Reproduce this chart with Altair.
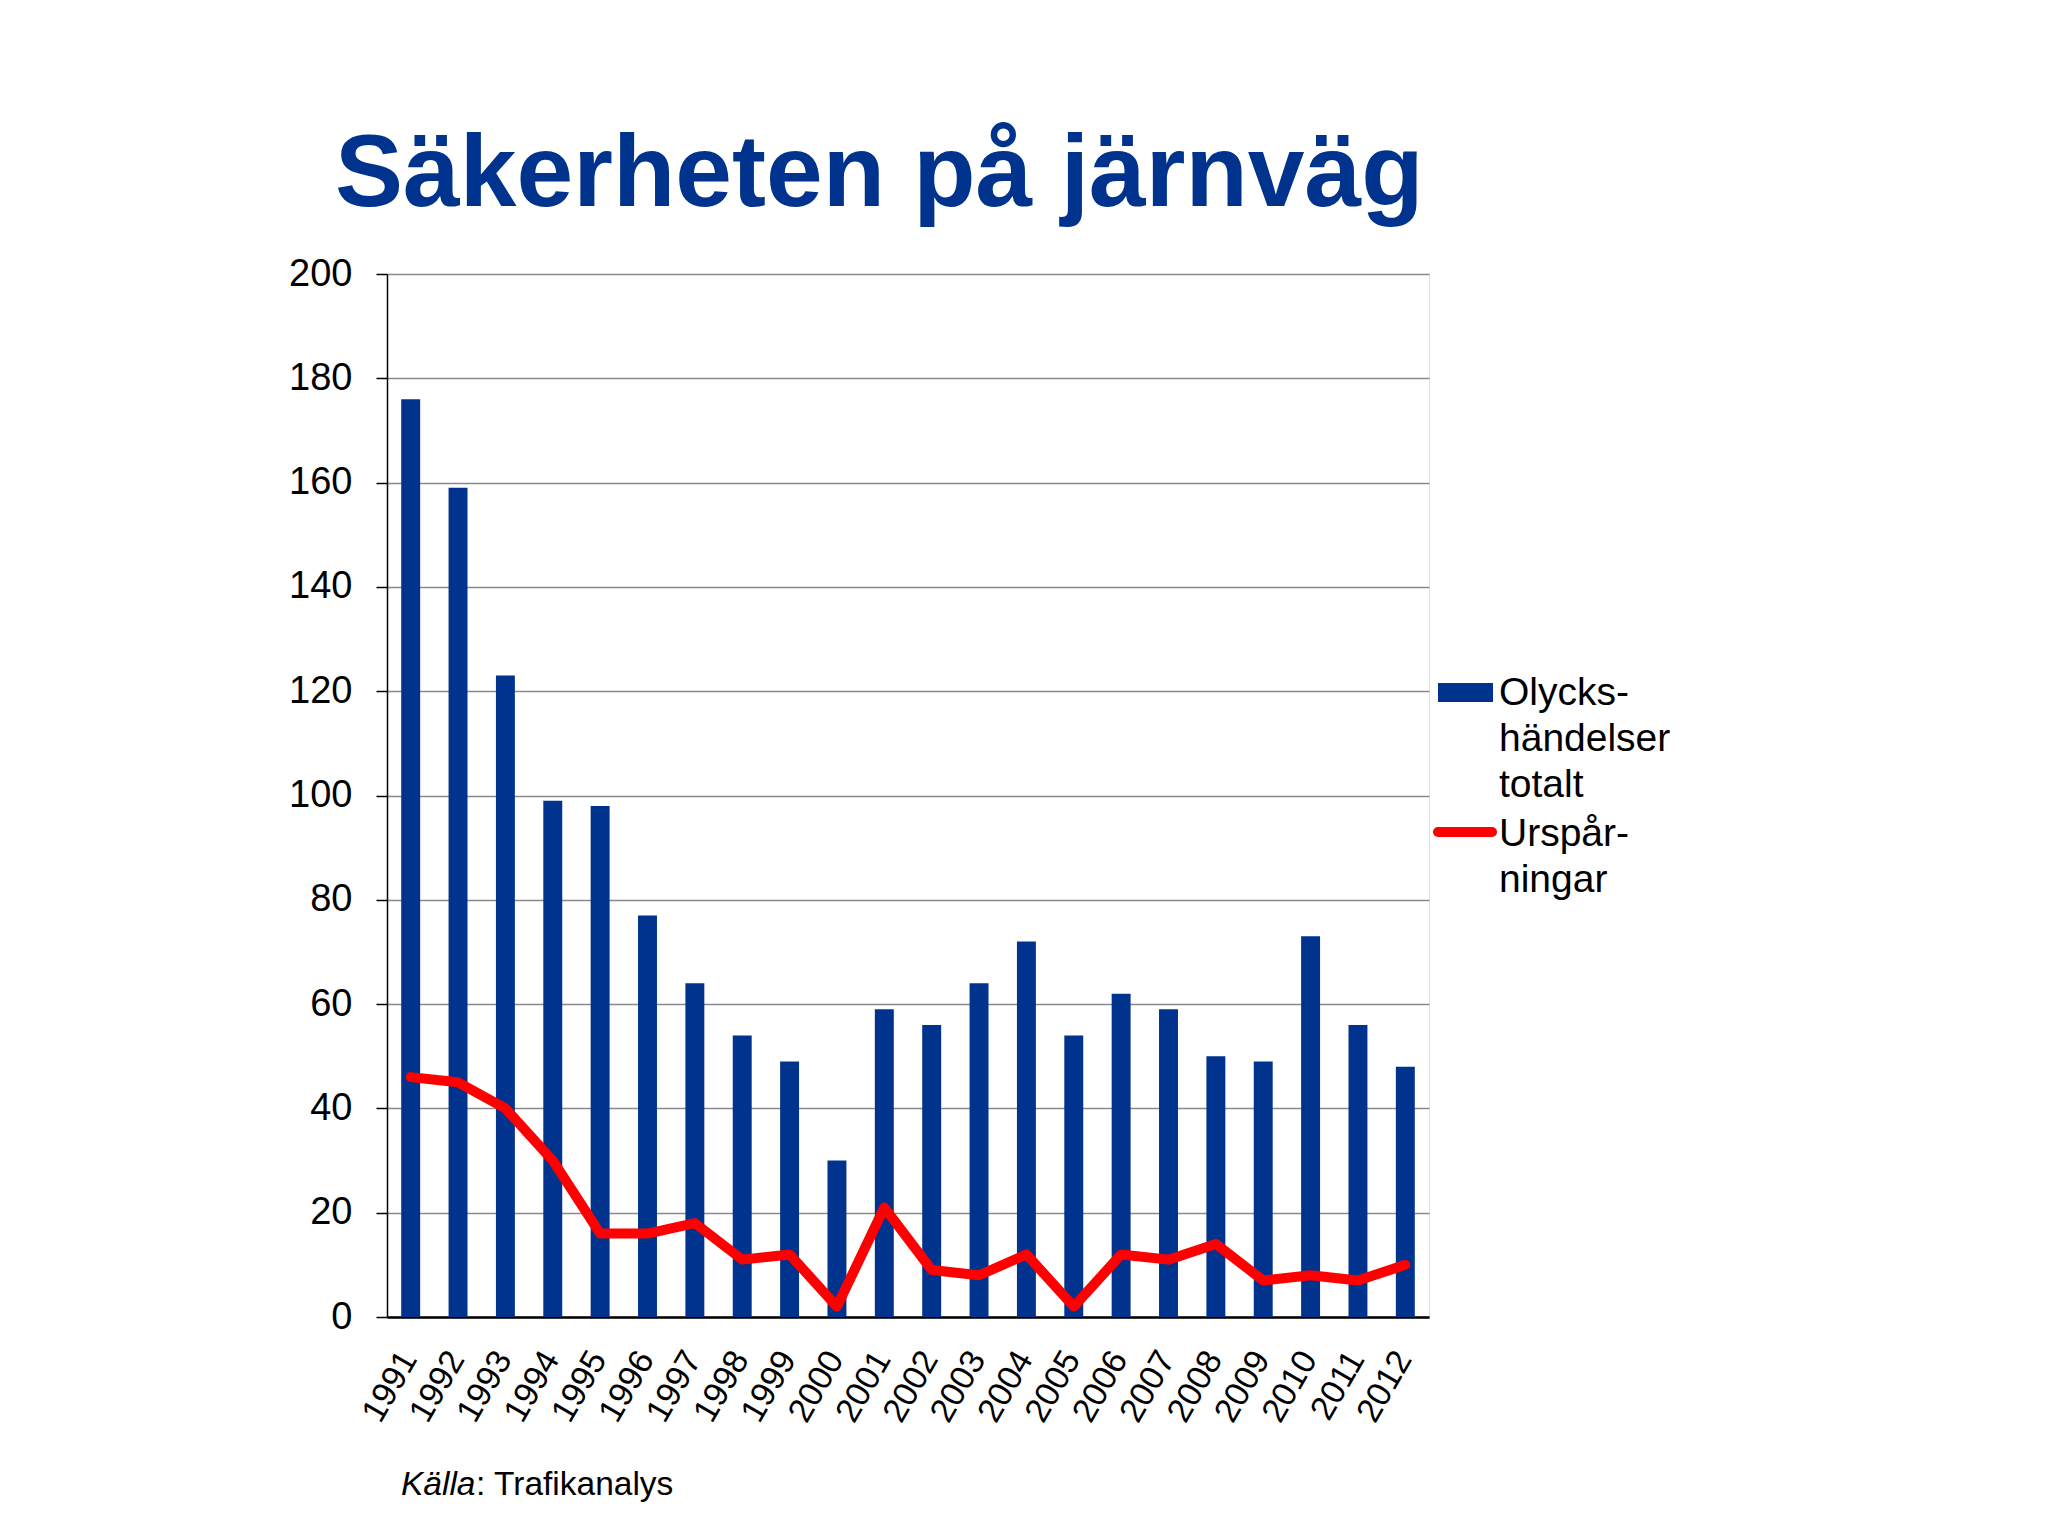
import altair as alt
import pandas as pd

# ---- data ----
years = ["1991", "1992", "1993", "1994", "1995", "1996", "1997", "1998", "1999", "2000",
         "2001", "2002", "2003", "2004", "2005", "2006", "2007", "2008", "2009", "2010",
         "2011", "2012"]
olyckshandelser = [176, 159, 123, 99, 98, 77, 64, 54, 49, 30,
                   59, 56, 64, 72, 54, 62, 59, 50, 49, 73, 56, 48]
ursparningar = [46, 45, 40, 30, 16, 16, 18, 11, 12, 2,
                21, 9, 8, 12, 2, 12, 11, 14, 7, 8, 7, 10]
y_ticks = [0, 20, 40, 60, 80, 100, 120, 140, 160, 180, 200]
legend_bar_lines = ["Olycks-", "händelser", "totalt"]
legend_line_lines = ["Urspår-", "ningar"]
title_text = "Säkerheten på järnväg"
source_label = "Källa"
source_text = ": Trafikanalys"

FONT = "Liberation Sans"
BLUE = "#00338D"
RED = "#FF0000"
W, H = 1042, 1043

df = pd.DataFrame({"year": years, "olyckor": olyckshandelser, "urspar": ursparningar})

x_axis = alt.Axis(title=None, labelAngle=-60, labelAlign="right", labelBaseline="top",
                  labelFontSize=34, labelFont=FONT, labelColor="black", labelPadding=28,
                  labelOffset=-16, ticks=False, tickSize=0, domainColor="black",
                  domainWidth=2.5, grid=False, labelOverlap=False)
y_axis = alt.Axis(title=None, values=y_ticks, grid=True, gridColor="#8a8a8a", gridWidth=1.5,
                  domainColor="black", domainWidth=1.5, tickColor="black", tickSize=11,
                  tickWidth=1.5, labelFontSize=38, labelFont=FONT, labelColor="black",
                  labelPadding=24)

x_enc = alt.X("year:N", sort=years, title=None,
              scale=alt.Scale(paddingInner=0.6, paddingOuter=0.3), axis=x_axis)

bars = alt.Chart(df).mark_bar(color=BLUE).encode(
    x=x_enc,
    y=alt.Y("olyckor:Q", title=None, scale=alt.Scale(domain=[0, 200], nice=False), axis=y_axis),
)
line = alt.Chart(df).mark_line(color=RED, strokeWidth=10, strokeJoin="round",
                               strokeCap="round").encode(
    x=alt.X("year:N", sort=years, title=None),
    y=alt.Y("urspar:Q", title=None),
)

one = pd.DataFrame({"k": [0]})
bar_sym = alt.Chart(one).mark_rect(color=BLUE).encode(
    x=alt.value(1051), x2=alt.value(1106), y=alt.value(409), y2=alt.value(428))
line_sym = alt.Chart(one).mark_rule(color=RED, strokeWidth=10, strokeCap="round").encode(
    x=alt.value(1051), x2=alt.value(1105), y=alt.value(558))
bar_txt = alt.Chart(one).mark_text(align="left", baseline="alphabetic", font=FONT,
                                   fontSize=39, lineHeight=46, color="black").encode(
    x=alt.value(1112), y=alt.value(431), text=alt.value(legend_bar_lines))
line_txt = alt.Chart(one).mark_text(align="left", baseline="alphabetic", font=FONT,
                                    fontSize=39, lineHeight=46, color="black").encode(
    x=alt.value(1112), y=alt.value(572), text=alt.value(legend_line_lines))
src1 = alt.Chart(one).mark_text(align="left", baseline="alphabetic", font=FONT,
                                fontSize=33.5, fontStyle="italic", color="black").encode(
    x=alt.value(14), y=alt.value(1221), text=alt.value(source_label))
src2 = alt.Chart(one).mark_text(align="left", baseline="alphabetic", font=FONT,
                                fontSize=33.5, color="black").encode(
    x=alt.value(89), y=alt.value(1221), text=alt.value(source_text))

chart = alt.layer(bars, line, bar_sym, line_sym, bar_txt, line_txt, src1, src2).properties(
    width=W, height=H,
    title=alt.TitleParams(text=title_text, anchor="start", frame="group", font=FONT,
                          fontSize=102, fontWeight="bold", color=BLUE, offset=45, dx=-52,
                          dy=98, baseline="alphabetic"),
    padding={"left": 379, "top": 266, "right": 300, "bottom": 200},
    autosize=alt.AutoSizeParams(type="none"),
).configure_view(stroke=None).configure(background="white")

chart.save("out.html", embed_options={"renderer": "svg", "actions": False})
